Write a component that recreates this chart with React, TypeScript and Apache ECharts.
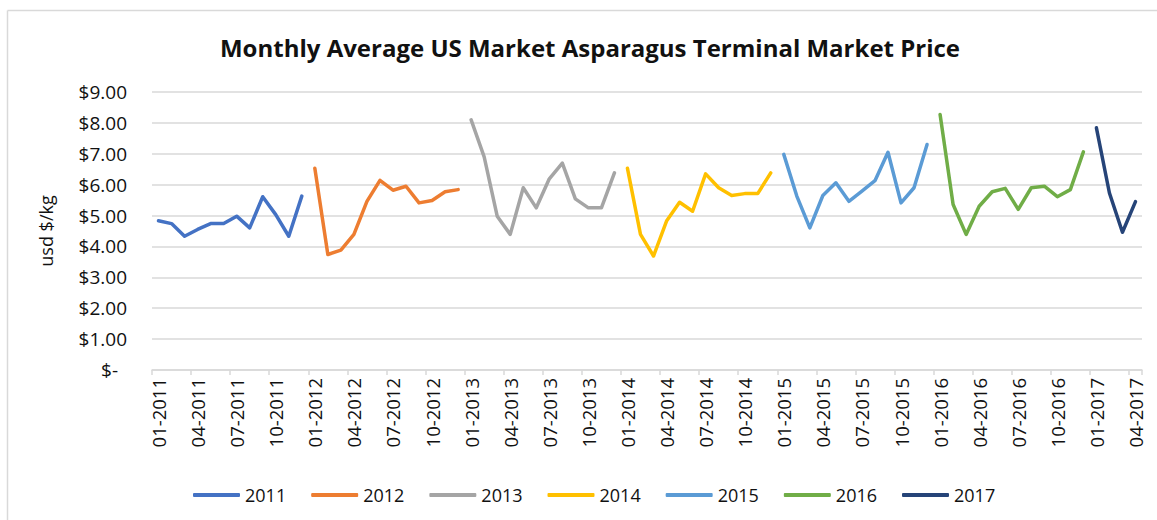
import React, { useEffect, useRef } from "react";
import * as echarts from "echarts";

const years = ["2011", "2012", "2013", "2014", "2015", "2016", "2017"];
const colors = ["#4472C4", "#ED7D31", "#A5A5A5", "#FFC000", "#5B9BD5", "#70AD47", "#264478"];

const v2011 = [4.83, 4.74, 4.33, 4.55, 4.74, 4.74, 4.98, 4.6, 5.61, 5.03, 4.33, 5.63];
const v2012 = [6.53, 3.74, 3.88, 4.39, 5.46, 6.14, 5.82, 5.95, 5.41, 5.49, 5.77, 5.84];
const v2013 = [8.1, 6.9, 4.98, 4.39, 5.9, 5.25, 6.19, 6.7, 5.54, 5.25, 5.25, 6.38];
const v2014 = [6.53, 4.39, 3.69, 4.82, 5.43, 5.14, 6.35, 5.9, 5.65, 5.71, 5.71, 6.38];
const v2015 = [6.98, 5.63, 4.6, 5.65, 6.06, 5.46, 5.79, 6.13, 7.05, 5.41, 5.9, 7.3];
const v2016 = [8.27, 5.36, 4.39, 5.3, 5.77, 5.88, 5.2, 5.9, 5.95, 5.61, 5.84, 7.06];
const v2017 = [7.84, 5.73, 4.46, 5.45];
const yearValues = [v2011, v2012, v2013, v2014, v2015, v2016, v2017];

const months = ["01", "02", "03", "04", "05", "06", "07", "08", "09", "10", "11", "12"];
const categories: string[] = [];
years.forEach((y, yi) => {
  const n = yearValues[yi].length;
  for (let m = 0; m < n; m++) categories.push(months[m] + "-" + y);
});

const FONT = "'Open Sans', 'DejaVu Sans', sans-serif";

export default function App() {
  const ref = useRef<HTMLDivElement>(null);
  useEffect(() => {
    document.body.style.margin = "0";
    if (!ref.current) return;
    const chart = echarts.init(ref.current, undefined, { renderer: "svg" });
    let offset = 0;
    const series = years.map((y, yi) => {
      const vals = yearValues[yi];
      const data: (number | null)[] = categories.map(() => null);
      vals.forEach((v, i) => {
        data[offset + i] = v;
      });
      offset += vals.length;
      return {
        name: y,
        type: "line",
        data,
        showSymbol: false,
        symbol: "none",
        connectNulls: false,
        lineStyle: { width: 3.5, color: colors[yi], cap: "round", join: "round" },
        itemStyle: { color: colors[yi] },
      };
    });
    chart.setOption({
      animation: false,
      textStyle: { fontFamily: FONT },
      graphic: [
        {
          type: "line",
          shape: { x1: 7.5, y1: 10.5, x2: 1157, y2: 10.5 },
          style: { stroke: "#D9D9D9", lineWidth: 1.5 },
        },
        {
          type: "line",
          shape: { x1: 7.5, y1: 10.5, x2: 7.5, y2: 520 },
          style: { stroke: "#D9D9D9", lineWidth: 1.5 },
        },
        {
          type: "text",
          x: 590,
          y: 47,
          style: {
            text: "Monthly Average US Market Asparagus Terminal Market Price",
            fill: "#111",
            font: "bold 24px " + FONT,
            textAlign: "center",
            textVerticalAlign: "middle",
          },
        },
      ],
      grid: { left: 152, right: 15, top: 92, bottom: 150, containLabel: false },
      legend: {
        data: years,
        left: 188,
        top: 481,
        icon: "roundRect",
        itemWidth: 47,
        itemHeight: 4,
        itemGap: 25,
        textStyle: { fontSize: 18, color: "#111", fontFamily: FONT, padding: [0, 0, 0, 0] },
      },
      xAxis: {
        type: "category",
        data: categories,
        boundaryGap: true,
        axisLine: { lineStyle: { color: "#D9D9D9", width: 1.5 } },
        axisTick: { show: true, interval: 2, length: 5, lineStyle: { color: "#D9D9D9", width: 1.5 } },
        axisLabel: { interval: 2, rotate: 90, margin: 8, fontSize: 18.5, color: "#111", fontFamily: FONT },
        splitLine: { show: false },
      },
      yAxis: {
        type: "value",
        min: 0,
        max: 9,
        interval: 1,
        name: "usd $/kg",
        nameLocation: "middle",
        nameRotate: 90,
        nameGap: 97,
        nameTextStyle: { fontSize: 18, color: "#111", fontFamily: FONT },
        axisLine: { show: false },
        axisTick: { show: false },
        splitLine: { lineStyle: { color: "#D9D9D9", width: 1.5 } },
        axisLabel: {
          margin: 25,
          fontSize: 19,
          color: "#111",
          fontFamily: FONT,
          formatter: (v: number) => (v === 0 ? "{z|$-}" : "$" + v.toFixed(2)),
          rich: { z: { fontSize: 19, color: "#111", fontFamily: FONT, padding: [0, 9, 0, 0] } },
        },
      },
      series,
    });
    return () => chart.dispose();
  }, []);
  return <div ref={ref} style={{ width: 1157, height: 520, background: "#fff" }} />;
}
